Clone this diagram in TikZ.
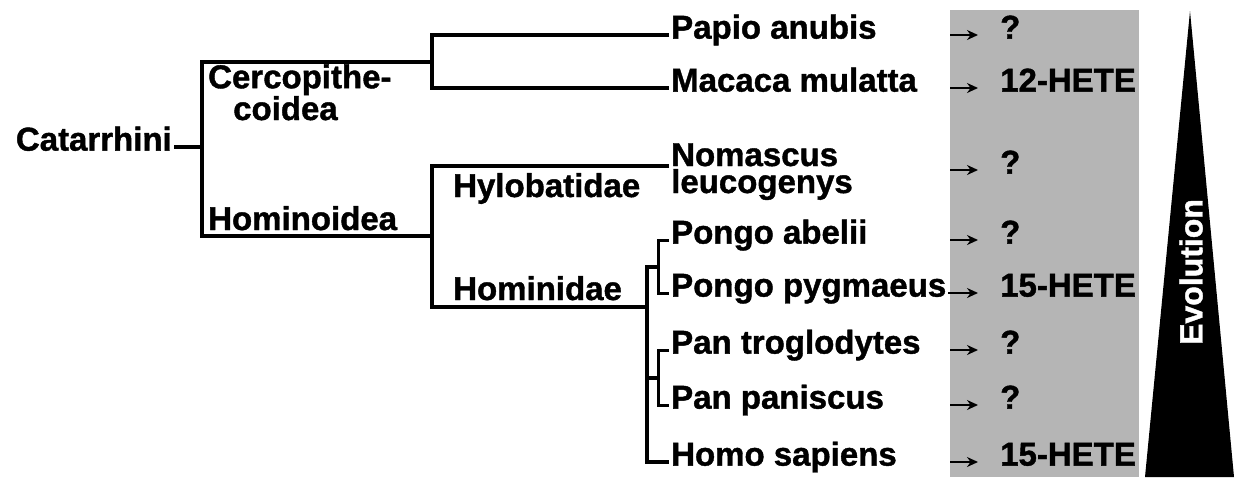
\documentclass[tikz,border=0pt]{standalone}
\usepackage{fontspec}
\setmainfont{Liberation Sans}[BoldFeatures={FakeBold=1.2}]
\usepackage{tikz}
\usetikzlibrary{calc, positioning, arrows.meta}
\definecolor{Panelgris}{RGB}{181,181,181}

\begin{document}
\begin{tikzpicture}[
  x=1pt, y=-1pt,
  font=\bfseries\fontsize{33}{27}\selectfont,
  taxon/.style={inner sep=2pt, align=left},
  leaf/.style={taxon, anchor=west, text height=0.72em, text depth=0pt},
  res/.style={leaf, anchor=west},
  branch/.style={line width=3.6pt},
  twig/.style={line width=3pt},
  arr/.style={-{Stealth[length=11pt, width=10pt]}, line width=2pt,
              shorten >=20pt}
]
\useasboundingbox (0,0) rectangle (1237,477);

\node[fill=Panelgris, minimum width=189pt, minimum height=467pt,
      inner sep=0pt, anchor=north west] (panel) at (950,10) {};
\fill (1190,11) -- (1145,477) -- (1234,477) -- cycle;
\node[rotate=90, text=white, font=\bfseries\fontsize{32}{32}\selectfont]
     (evo) at (1191,272) {Evolution};

\node[leaf, anchor=east] (catarrhini) at (174,147) {Catarrhini};
\node[taxon, anchor=base west] (cerco) at (206,120) {Cercopithe-\\\hspace*{25pt}coidea};
\node[taxon, anchor=base west] (hominoidea) at (206,230) {Hominoidea};
\node[taxon, anchor=base west] (hylobatidae) at (451,197) {Hylobatidae};
\node[taxon, anchor=base west] (hominidae) at (451,300) {Hominidae};

\node[leaf] (papio)       at (669,35)  {Papio anubis};
\node[leaf] (macaca)      at (669,88)  {Macaca mulatta};
\node[taxon, anchor=base west] (nomascus) at (669,193) {Nomascus\\leucogenys};
\node[leaf] (abelii)      at (669,240) {Pongo abelii};
\node[leaf] (pygmaeus)    at (669,293) {Pongo pygmaeus};
\node[leaf] (troglodytes) at (669,350) {Pan troglodytes};
\node[leaf] (paniscus)    at (669,405) {Pan paniscus};
\node[leaf] (sapiens)     at (669,462) {Homo sapiens};

\coordinate (root)     at (202,147);
\coordinate (cerc)     at (432,62);
\coordinate (hominoid) at (432,236);
\coordinate (hominid)  at (647,307);
\coordinate (pongo)    at (658,267);
\coordinate (pan)      at (658,378);

\draw[branch] (catarrhini.east) -- (root);
\draw[branch] (cerc) -| (root) |- (hominoid);
\draw[branch] (papio.west) -| (cerc) |- (macaca.west);
\draw[branch] (nomascus.west |- 0,166) -| (hominoid) |- (hominid);
\draw[branch] (pongo) -| (hominid) |- (sapiens.west);
\draw[branch] (pan) -- (pan -| hominid);
\draw[twig] (abelii.west) -| (pongo) |- (pygmaeus.west);
\draw[twig] (troglodytes.west) -| (pan) |- (paniscus.west);

\node[res] (r1) at (998,35)  {?};
\node[res] (r2) at (998,88)  {12-HETE};
\node[res] (r3) at (998,170) {?};
\node[res] (r4) at (998,240) {?};
\node[res] (r5) at (998,293) {15-HETE};
\node[res] (r6) at (998,350) {?};
\node[res] (r7) at (998,405) {?};
\node[res] (r8) at (998,462) {15-HETE};

\draw[arr] (r1.west -| panel.west) -- (r1.west);
\draw[arr] (r2.west -| panel.west) -- (r2.west);
\draw[arr] (r3.west -| panel.west) -- (r3.west);
\draw[arr] (r4.west -| panel.west) -- (r4.west);
\draw[arr] (pygmaeus.east)         -- (r5.west);
\draw[arr] (r6.west -| panel.west) -- (r6.west);
\draw[arr] (r7.west -| panel.west) -- (r7.west);
\draw[arr] (r8.west -| panel.west) -- (r8.west);
\end{tikzpicture}
\end{document}
